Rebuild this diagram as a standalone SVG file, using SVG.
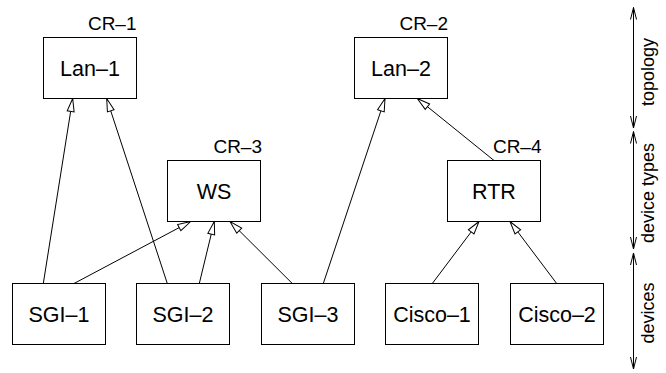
<svg xmlns="http://www.w3.org/2000/svg" width="666" height="373" viewBox="0 0 666 373">
<defs>
<style>
.box{fill:#fff;stroke:#000;stroke-width:1}
.lbl{font-family:"Liberation Sans",Arial,sans-serif;font-size:21.5px;text-anchor:middle;fill:#000}
.cr{font-family:"Liberation Sans",Arial,sans-serif;font-size:19px;text-anchor:end;fill:#000}
.side{font-family:"Liberation Sans",Arial,sans-serif;font-size:18px;text-anchor:middle;fill:#000}
.edge{stroke:#000;stroke-width:1;fill:none;marker-end:url(#tri)}
.dim{stroke:#000;stroke-width:1;fill:none;marker-start:url(#vee);marker-end:url(#vee)}
</style>
<marker id="tri" markerUnits="userSpaceOnUse" viewBox="-14 -5 15 10" refX="0" refY="0" markerWidth="15" markerHeight="10" orient="auto">
<path d="M0,0 L-13,-3.5 L-13,3.5 Z" fill="#fff" stroke="#000" stroke-width="1"/>
</marker>
<marker id="vee" markerUnits="userSpaceOnUse" viewBox="-14 -5 15 10" refX="0" refY="0" markerWidth="15" markerHeight="10" orient="auto-start-reverse">
<path d="M-12,-3 L0,0 L-12,3" fill="none" stroke="#000" stroke-width="1"/>
</marker>
</defs>
<rect width="666" height="373" fill="#fff"/>
<g id="connectors">
<line class="edge" x1="43.3" y1="283.5" x2="72.7" y2="98.5"/>
<line class="edge" x1="167.3" y1="283.5" x2="106.7" y2="98.5"/>
<line class="edge" x1="74" y1="283.5" x2="190.7" y2="221.5"/>
<line class="edge" x1="199.3" y1="283.5" x2="214.3" y2="221.5"/>
<line class="edge" x1="292.3" y1="283.5" x2="230" y2="221.5"/>
<line class="edge" x1="323.3" y1="283.5" x2="385" y2="98.5"/>
<line class="edge" x1="494" y1="160.5" x2="417.3" y2="98.5"/>
<line class="edge" x1="432.3" y1="283.5" x2="479" y2="221.5"/>
<line class="edge" x1="556.7" y1="283.5" x2="510" y2="221.5"/>
</g>
<g id="lan1"><rect class="box" x="43.5" y="37.5" width="93" height="61"/><text class="lbl" x="90" y="76">Lan–1</text><text class="cr" x="136.5" y="30">CR–1</text></g>
<g id="lan2"><rect class="box" x="354.5" y="37.5" width="93" height="61"/><text class="lbl" x="401" y="76">Lan–2</text><text class="cr" x="448" y="30">CR–2</text></g>
<g id="ws"><rect class="box" x="167.5" y="160.5" width="93" height="61"/><text class="lbl" x="214" y="199">WS</text><text class="cr" x="262" y="152.7">CR–3</text></g>
<g id="rtr"><rect class="box" x="447.5" y="160.5" width="93" height="61"/><text class="lbl" x="494" y="199">RTR</text><text class="cr" x="541.5" y="152.7">CR–4</text></g>
<g id="sgi1"><rect class="box" x="12.5" y="283.5" width="93" height="61"/><text class="lbl" x="59" y="322">SGI–1</text></g>
<g id="sgi2"><rect class="box" x="136.5" y="283.5" width="93" height="61"/><text class="lbl" x="183" y="322">SGI–2</text></g>
<g id="sgi3"><rect class="box" x="261.5" y="283.5" width="93" height="61"/><text class="lbl" x="308" y="322">SGI–3</text></g>
<g id="cisco1"><rect class="box" x="385.5" y="283.5" width="93" height="61"/><text class="lbl" x="432" y="322">Cisco–1</text></g>
<g id="cisco2"><rect class="box" x="510.5" y="283.5" width="93" height="61"/><text class="lbl" x="557" y="322">Cisco–2</text></g>
<g id="levels">
<line class="dim" x1="633.5" y1="7.5" x2="633.5" y2="128"/>
<line class="dim" x1="633.5" y1="131.5" x2="633.5" y2="249"/>
<line class="dim" x1="633.5" y1="253" x2="633.5" y2="369"/>
<text class="side" transform="translate(654,72) rotate(-90)">topology</text>
<text class="side" transform="translate(654,193) rotate(-90)">device types</text>
<text class="side" transform="translate(654,313) rotate(-90)">devices</text>
</g>
</svg>
